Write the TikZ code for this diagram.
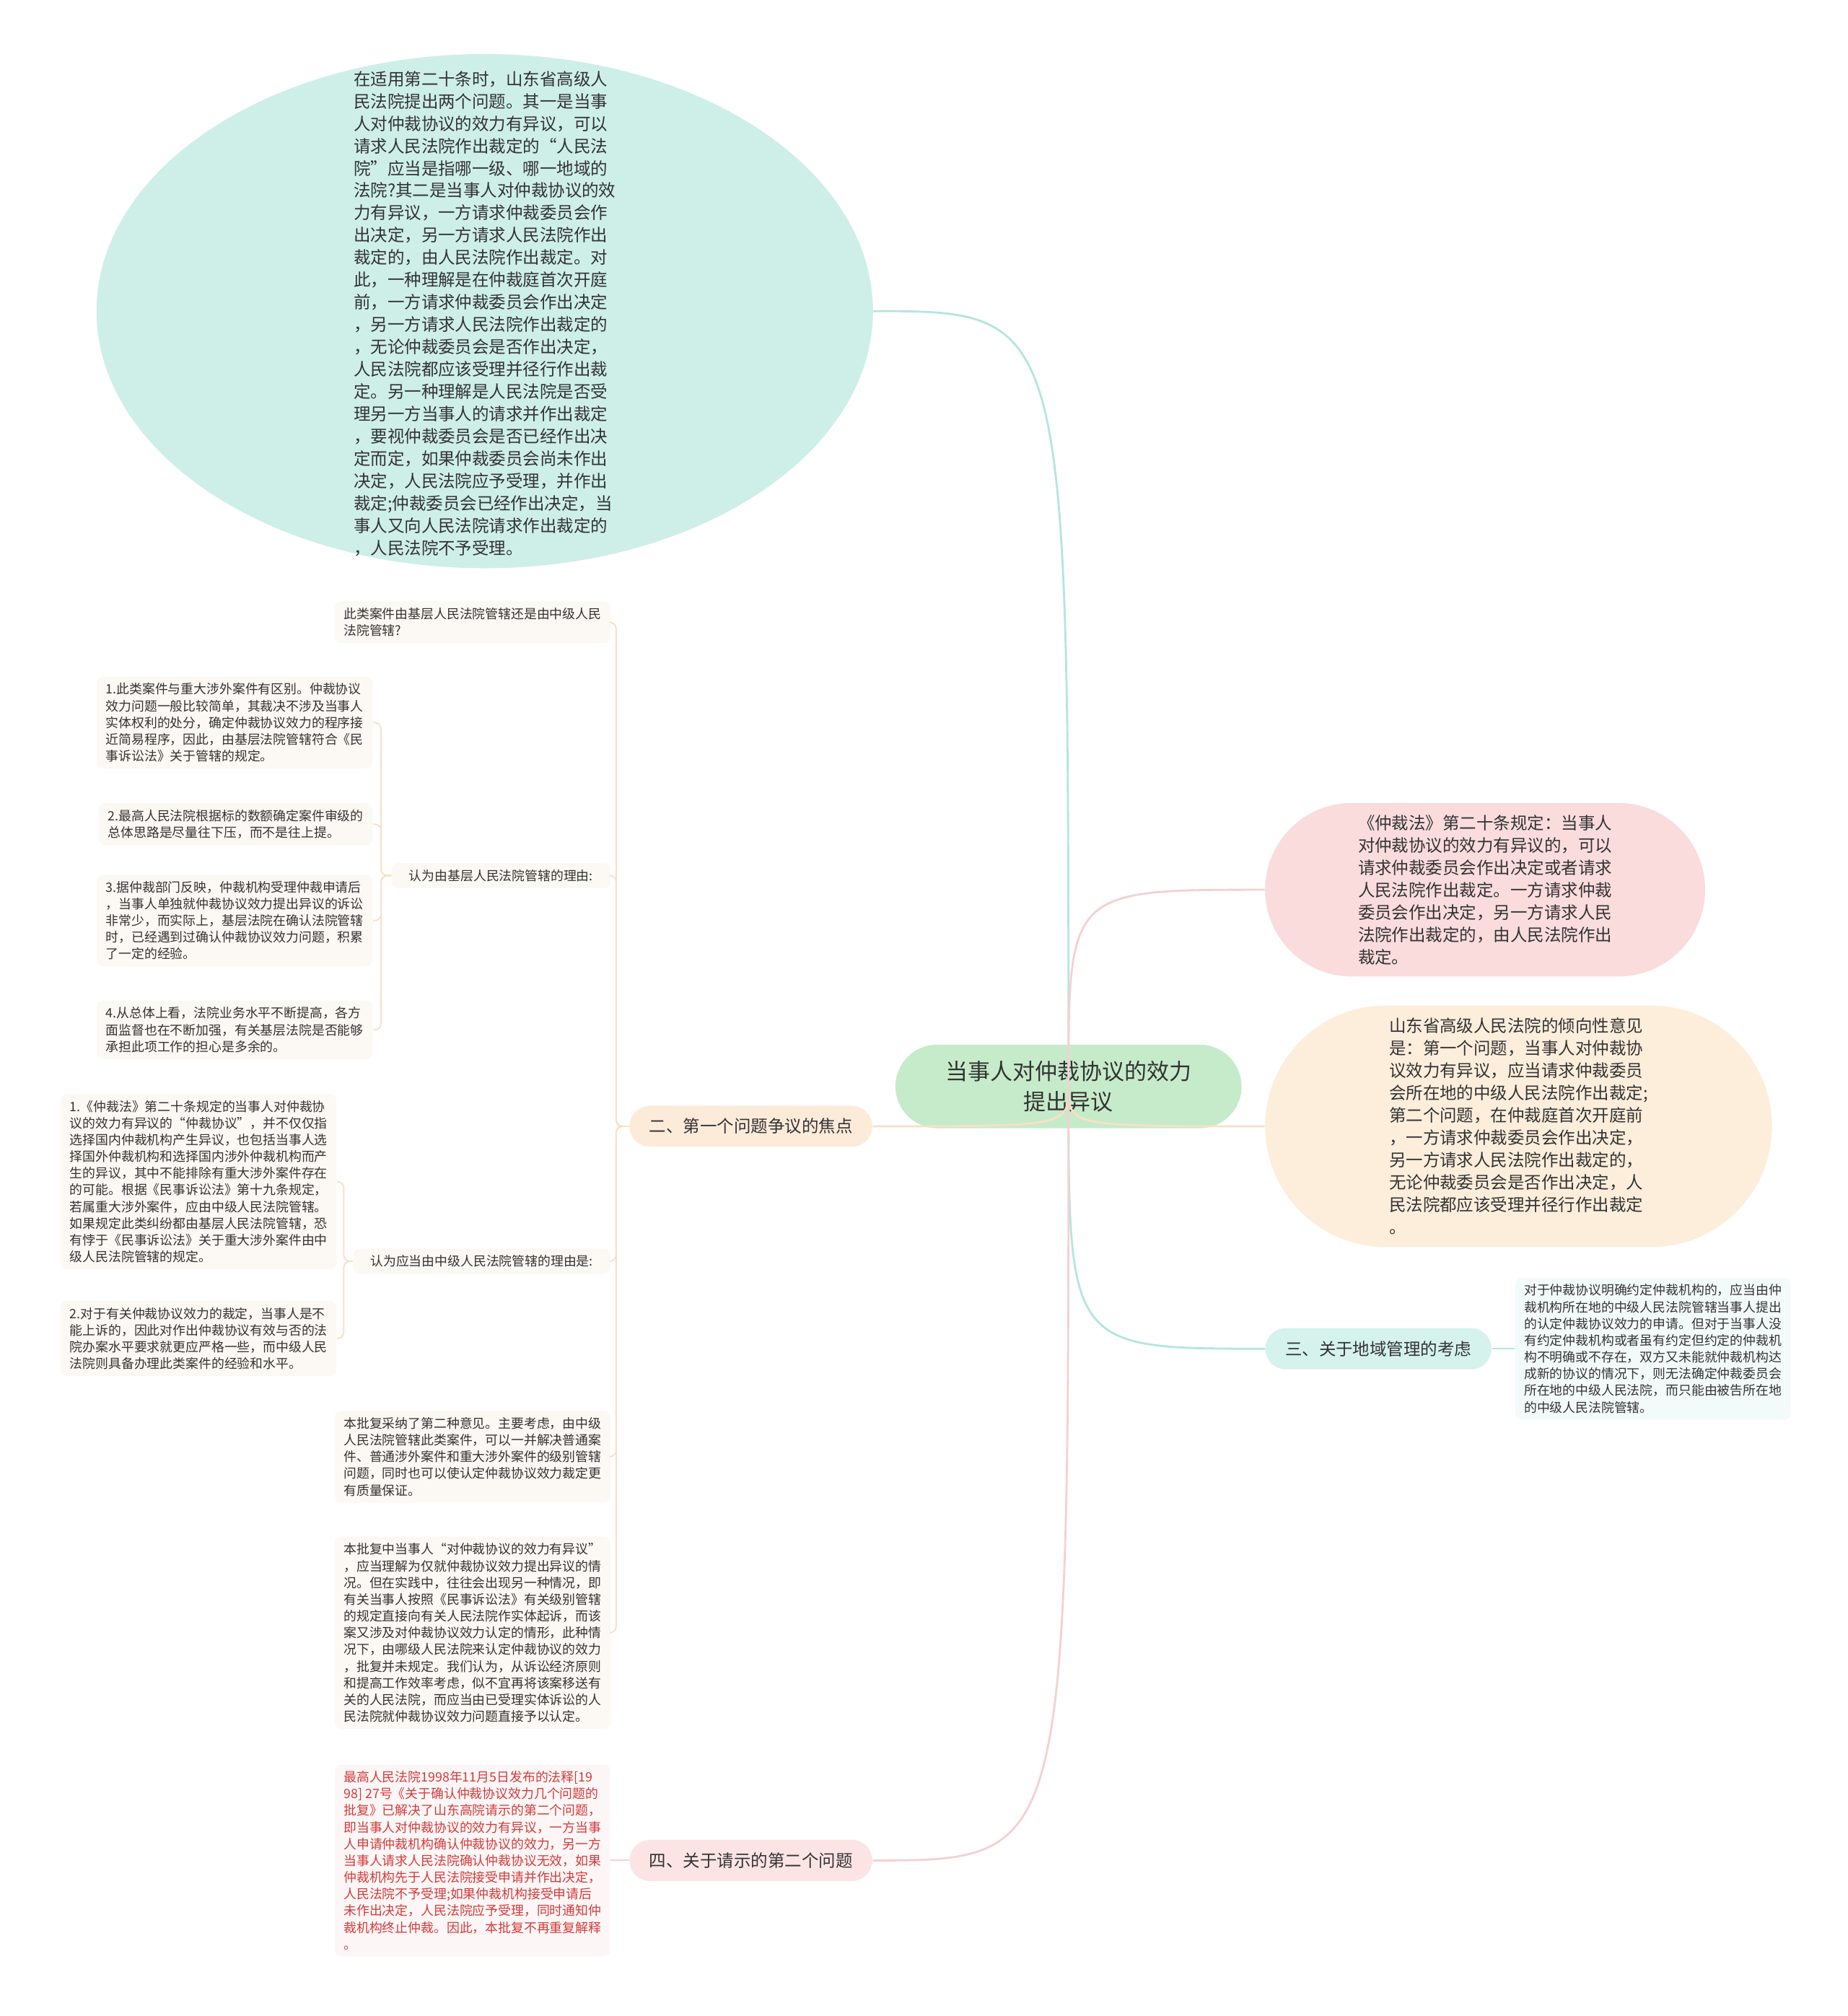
\documentclass[tikz,border=0pt]{standalone}
\usepackage{fontspec}
\setmainfont{Noto Sans CJK SC}
\usepackage{tikz}
\usetikzlibrary{shapes.geometric,shapes.misc}
\definecolor{yaziGri}{HTML}{333333}
\definecolor{kokYesil}{HTML}{C6EBCA}
\definecolor{turkuazDolgu}{HTML}{CDEFE8}
\definecolor{turkuazCizgi}{HTML}{B4E6DD}
\definecolor{turkuazEtiket}{HTML}{D5F2ED}
\definecolor{turkuazKutu}{HTML}{F3FAFA}
\definecolor{pembeDolgu}{HTML}{FADCDD}
\definecolor{pembeCizgi}{HTML}{F6D0D2}
\definecolor{pembeEtiket}{HTML}{FCE4E4}
\definecolor{pembeKutu}{HTML}{FDF6F6}
\definecolor{kirmiziYazi}{HTML}{D23B3B}
\definecolor{turuncuDolgu}{HTML}{FDEEDC}
\definecolor{turuncuCizgi}{HTML}{F8E0C6}
\definecolor{turuncuEtiket}{HTML}{FDEBDA}
\definecolor{turuncuKutu}{HTML}{FCF8F3}
\newcommand{\kokYazi}{\fontsize{9.9}{13.6}\selectfont}
\newcommand{\buyukYazi}{\fontsize{7.5}{9.9}\selectfont}
\newcommand{\kucukYazi}{\fontsize{5.7}{7.4}\selectfont}
\tikzset{
  kok/.style={rounded rectangle,fill=kokYesil,minimum width=5.62cm,minimum height=1.3cm,font=\kokYazi,align=center,text=yaziGri},
  dal/.style={rounded rectangle,minimum height=0.64cm,font=\buyukYazi,text=yaziGri,inner xsep=0.2cm},
  buyukKutu/.style={rounded rectangle,font=\buyukYazi,align=left,text=yaziGri},
  kutu/.style={rounded corners=0.1cm,font=\kucukYazi,align=left,text=yaziGri,inner xsep=0.14cm,inner ysep=0.1cm},
  kol/.style={line width=0.9pt},
  altKol/.style={line width=0.6pt,rounded corners=0.1cm}
}
\begin{document}
\begin{tikzpicture}[x=0.02cm,y=-0.02cm]
\fill[white] (0,0) rectangle (1437,1568);
\useasboundingbox (0,0) rectangle (1437,1568);
% merkez ve ana dallar
\node[kok] (kok) at (831,845) {当事人对仲裁协议的效力\\提出异议};
\node[ellipse,fill=turkuazDolgu,minimum width=12.08cm,minimum height=8cm] (soru) at (377,242) {};
\node[font=\buyukYazi,align=left,text=yaziGri] (soruYazi) at (377,244) {在适用第二十条时，山东省高级人\\民法院提出两个问题。其一是当事\\人对仲裁协议的效力有异议，可以\\请求人民法院作出裁定的“人民法\\院”应当是指哪一级、哪一地域的\\法院?其二是当事人对仲裁协议的效\\力有异议，一方请求仲裁委员会作\\出决定，另一方请求人民法院作出\\裁定的，由人民法院作出裁定。对\\此，一种理解是在仲裁庭首次开庭\\前，一方请求仲裁委员会作出决定\\，另一方请求人民法院作出裁定的\\，无论仲裁委员会是否作出决定，\\人民法院都应该受理并径行作出裁\\定。另一种理解是人民法院是否受\\理另一方当事人的请求并作出裁定\\，要视仲裁委员会是否已经作出决\\定而定，如果仲裁委员会尚未作出\\决定，人民法院应予受理，并作出\\裁定;仲裁委员会已经作出决定，当\\事人又向人民法院请求作出裁定的\\，人民法院不予受理。};
\node[buyukKutu,fill=pembeDolgu,minimum width=7.08cm,minimum height=2.7cm] (kanun) at (1155,692) {《仲裁法》第二十条规定：当事人\\对仲裁协议的效力有异议的，可以\\请求仲裁委员会作出决定或者请求\\人民法院作出裁定。一方请求仲裁\\委员会作出决定，另一方请求人民\\法院作出裁定的，由人民法院作出\\裁定。};
\node[buyukKutu,fill=turuncuDolgu,minimum width=8.12cm,minimum height=3.76cm] (gorus) at (1181,876) {山东省高级人民法院的倾向性意见\\是：第一个问题，当事人对仲裁协\\议效力有异议，应当请求仲裁委员\\会所在地的中级人民法院作出裁定;\\第二个问题，在仲裁庭首次开庭前\\，一方请求仲裁委员会作出决定，\\另一方请求人民法院作出裁定的，\\无论仲裁委员会是否作出决定，人\\民法院都应该受理并径行作出裁定\\。};
\node[dal,fill=turuncuEtiket,minimum width=4.18cm] (ikinci) at (584,876) {二、第一个问题争议的焦点};
\node[dal,fill=turkuazEtiket,minimum width=3.92cm] (ucuncu) at (1072,1049) {三、关于地域管理的考虑};
\node[dal,fill=pembeEtiket,minimum width=4.18cm] (dorduncu) at (584,1447) {四、关于请示的第二个问题};
% ikinci dalin alt kutulari
\node[kutu,fill=turuncuKutu,anchor=east] (kimMahkeme) at (475,484) {此类案件由基层人民法院管辖还是由中级人民\\法院管辖?};
\node[kutu,fill=turuncuKutu,anchor=east,minimum width=3.4cm,align=center] (temel) at (475,681) {认为由基层人民法院管辖的理由:};
\node[kutu,fill=turuncuKutu,anchor=east,minimum width=4cm,align=center] (orta) at (475,981) {认为应当由中级人民法院管辖的理由是:};
\node[kutu,fill=turuncuKutu,anchor=east] (kabul) at (475,1133) {本批复采纳了第二种意见。主要考虑，由中级\\人民法院管辖此类案件，可以一并解决普通案\\件、普通涉外案件和重大涉外案件的级别管辖\\问题，同时也可以使认定仲裁协议效力裁定更\\有质量保证。};
\node[kutu,fill=turuncuKutu,anchor=east] (itiraz) at (475,1270) {本批复中当事人“对仲裁协议的效力有异议”\\，应当理解为仅就仲裁协议效力提出异议的情\\况。但在实践中，往往会出现另一种情况，即\\有关当事人按照《民事诉讼法》有关级别管辖\\的规定直接向有关人民法院作实体起诉，而该\\案又涉及对仲裁协议效力认定的情形，此种情\\况下，由哪级人民法院来认定仲裁协议的效力\\，批复并未规定。我们认为，从诉讼经济原则\\和提高工作效率考虑，似不宜再将该案移送有\\关的人民法院，而应当由已受理实体诉讼的人\\民法院就仲裁协议效力问题直接予以认定。};
\node[kutu,fill=turuncuKutu,anchor=east] (temelA) at (290,562) {1.此类案件与重大涉外案件有区别。仲裁协议\\效力问题一般比较简单，其裁决不涉及当事人\\实体权利的处分，确定仲裁协议效力的程序接\\近简易程序，因此，由基层法院管辖符合《民\\事诉讼法》关于管辖的规定。};
\node[kutu,fill=turuncuKutu,anchor=east] (temelB) at (290,641) {2.最高人民法院根据标的数额确定案件审级的\\总体思路是尽量往下压，而不是往上提。};
\node[kutu,fill=turuncuKutu,anchor=east] (temelC) at (290,716) {3.据仲裁部门反映，仲裁机构受理仲裁申请后\\，当事人单独就仲裁协议效力提出异议的诉讼\\非常少，而实际上，基层法院在确认法院管辖\\时，已经遇到过确认仲裁协议效力问题，积累\\了一定的经验。};
\node[kutu,fill=turuncuKutu,anchor=east] (temelD) at (290,801) {4.从总体上看，法院业务水平不断提高，各方\\面监督也在不断加强，有关基层法院是否能够\\承担此项工作的担心是多余的。};
\node[kutu,fill=turuncuKutu,anchor=east] (ortaA) at (262,919) {1.《仲裁法》第二十条规定的当事人对仲裁协\\议的效力有异议的“仲裁协议”，并不仅仅指\\选择国内仲裁机构产生异议，也包括当事人选\\择国外仲裁机构和选择国内涉外仲裁机构而产\\生的异议，其中不能排除有重大涉外案件存在\\的可能。根据《民事诉讼法》第十九条规定，\\若属重大涉外案件，应由中级人民法院管辖。\\如果规定此类纠纷都由基层人民法院管辖，恐\\有悖于《民事诉讼法》关于重大涉外案件由中\\级人民法院管辖的规定。};
\node[kutu,fill=turuncuKutu,anchor=east] (ortaB) at (262,1041) {2.对于有关仲裁协议效力的裁定，当事人是不\\能上诉的，因此对作出仲裁协议有效与否的法\\院办案水平要求就更应严格一些，而中级人民\\法院则具备办理此类案件的经验和水平。};
% ucuncu ve dorduncu dalin kutulari
\node[kutu,fill=turkuazKutu,anchor=west] (yer) at (1178,1049) {对于仲裁协议明确约定仲裁机构的，应当由仲\\裁机构所在地的中级人民法院管辖当事人提出\\的认定仲裁协议效力的申请。但对于当事人没\\有约定仲裁机构或者虽有约定但约定的仲裁机\\构不明确或不存在，双方又未能就仲裁机构达\\成新的协议的情况下，则无法确定仲裁委员会\\所在地的中级人民法院，而只能由被告所在地\\的中级人民法院管辖。};
\node[kutu,fill=pembeKutu,anchor=east,text=kirmiziYazi] (batak) at (475,1447) {最高人民法院1998年11月5日发布的法释[19\\98] 27号《关于确认仲裁协议效力几个问题的\\批复》已解决了山东高院请示的第二个问题，\\即当事人对仲裁协议的效力有异议，一方当事\\人申请仲裁机构确认仲裁协议的效力，另一方\\当事人请求人民法院确认仲裁协议无效，如果\\仲裁机构先于人民法院接受申请并作出决定，\\人民法院不予受理;如果仲裁机构接受申请后\\未作出决定，人民法院应予受理，同时通知仲\\裁机构终止仲裁。因此，本批复不再重复解释\\。};
% baglantilar
\draw[kol,turkuazCizgi] (kok.center) .. controls (kok.center |- soru.east) .. (soru.east);
\draw[kol,pembeCizgi] (kok.center) .. controls (kok.center |- kanun.west) .. (kanun.west);
\draw[kol,turuncuCizgi] (kok.center) .. controls (kok.center |- gorus.west) .. (gorus.west);
\draw[kol,turuncuCizgi] (kok.center) .. controls (kok.center |- ikinci.east) .. (ikinci.east);
\draw[kol,turkuazCizgi] (kok.center) .. controls (kok.center |- ucuncu.west) .. (ucuncu.west);
\draw[kol,pembeCizgi] (kok.center) .. controls (kok.center |- dorduncu.east) .. (dorduncu.east);
\foreach \k in {kimMahkeme,temel,orta,kabul,itiraz}
  \draw[altKol,turuncuCizgi] (ikinci.west) -- ++(-10,0) |- (\k.east);
\foreach \k in {temelA,temelB,temelC,temelD}
  \draw[altKol,turuncuCizgi] (temel.west) -- ++(-8,0) |- (\k.east);
\foreach \k in {ortaA,ortaB}
  \draw[altKol,turuncuCizgi] (orta.west) -- ++(-7,0) |- (\k.east);
\draw[altKol,turkuazCizgi] (ucuncu.east) -- (yer.west);
\draw[altKol,pembeCizgi] (dorduncu.west) -- (batak.east);
\end{tikzpicture}
\end{document}
